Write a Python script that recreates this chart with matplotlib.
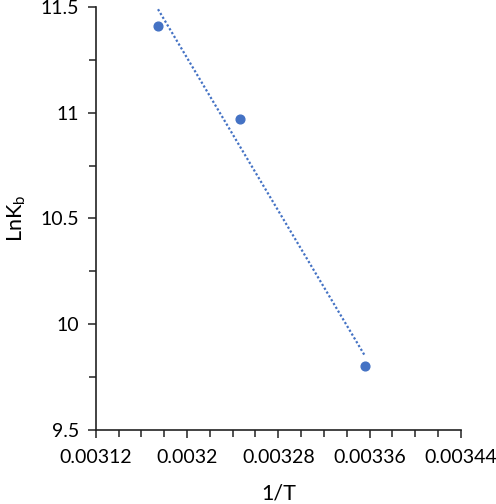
import numpy as np
import matplotlib
matplotlib.use("Agg")
import matplotlib.pyplot as plt
from matplotlib.ticker import MultipleLocator, FuncFormatter

plt.rcParams['font.family'] = ['Lato', 'DejaVu Sans']

# data (1/T for T = 315, 308, 298 K)
inv_T = [1 / 315, 1 / 308, 1 / 298]
ln_kb = [11.41, 10.97, 9.80]

x_ticks = [0.00312, 0.0032, 0.00328, 0.00336, 0.00344]
y_ticks = [9.5, 10, 10.5, 11, 11.5]

blue = "#4472C4"

fig = plt.figure(figsize=(4.96, 5.04), dpi=100)
ax = fig.add_axes([0.193, 0.147, 0.736, 0.839])

# linear trendline
coef = np.polyfit(inv_T, ln_kb, 1)
xs = np.array([min(inv_T), max(inv_T)])
ax.plot(xs, np.polyval(coef, xs), color=blue, lw=1.6, ls=(0, (1, 1)))

ax.plot(inv_T, ln_kb, 'o', color=blue, ms=6.3, mec=blue)

ax.set_xlim(x_ticks[0], x_ticks[-1])
ax.set_ylim(y_ticks[0], y_ticks[-1])
ax.set_xticks(x_ticks)
ax.set_yticks(y_ticks)
ax.xaxis.set_minor_locator(MultipleLocator(0.00002))
ax.yaxis.set_minor_locator(MultipleLocator(0.25))
ax.xaxis.set_major_formatter(FuncFormatter(lambda v, p: f"{v:.5f}".rstrip('0')))
ax.yaxis.set_major_formatter(FuncFormatter(lambda v, p: f"{v:g}"))

for s in ['top', 'right']:
    ax.spines[s].set_visible(False)
for s in ['left', 'bottom']:
    ax.spines[s].set_linewidth(1.2)
    ax.spines[s].set_color("#222222")

ax.tick_params(which='major', length=6, width=1.1, color="#222222", labelsize=14)
ax.tick_params(axis='x', which='major', pad=8)
ax.tick_params(axis='y', which='major', pad=6)
ax.tick_params(which='minor', length=5, width=1.1, color="#222222")

ax.set_xlabel("1/T", fontsize=15.5, labelpad=12)
ax.set_ylabel("LnK$_\\mathregular{b}$", fontsize=15.5, labelpad=9)

fig.savefig("out.png", dpi=100)
